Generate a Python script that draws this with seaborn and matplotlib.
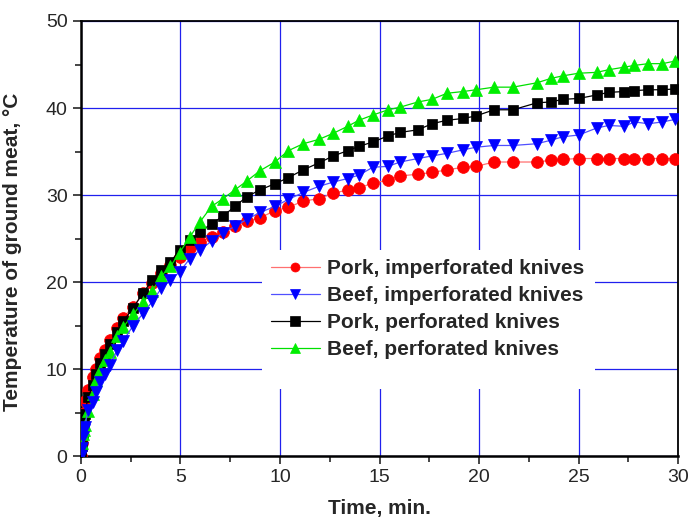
import numpy as np
import pandas as pd
import seaborn as sns
import matplotlib
import matplotlib.pyplot as plt
from matplotlib.patches import Rectangle
from matplotlib.ticker import MultipleLocator

matplotlib.use('Agg')

time_min = [0, 0.07, 0.12, 0.17, 0.2, 0.37, 0.62, 0.75, 0.95, 1.2,
            1.46, 1.84, 2.12, 2.63, 3.13, 3.6, 4.05, 4.5, 4.97, 5.48,
            5.98, 6.57, 7.15, 7.74, 8.33, 9.0, 9.75, 10.42, 11.17, 11.96,
            12.68, 13.4, 13.97, 14.67, 15.43, 16.03, 16.93, 17.64, 18.39, 19.2,
            19.85, 20.75, 21.7, 22.9, 23.6, 24.2, 25.0, 25.9, 26.5, 27.3,
            27.8, 28.5, 29.2, 29.85]

pork_imperf = [0, 1.5, 3.0, 5.0, 6.4, 7.6, 9.1, 10.0, 11.3, 12.2,
               13.4, 14.7, 15.9, 17.2, 18.7, 19.9, 21.0, 22.0, 22.9, 23.9,
               24.6, 25.2, 25.8, 26.4, 27.0, 27.4, 28.2, 28.6, 29.3, 29.6,
               30.2, 30.6, 30.8, 31.4, 31.7, 32.2, 32.4, 32.6, 32.9, 33.2,
               33.3, 33.8, 33.8, 33.8, 34.0, 34.1, 34.2, 34.2, 34.2, 34.2,
               34.2, 34.2, 34.2, 34.2]

beef_imperf = [0, 0.9, 2.2, 3.0, 3.4, 5.3, 6.2, 7.4, 8.5, 9.5,
               10.5, 12.2, 13.2, 15.0, 16.4, 17.8, 19.3, 20.2, 21.2, 22.7,
               23.7, 24.7, 25.7, 26.4, 27.2, 28.0, 28.7, 29.5, 30.3, 31.0,
               31.5, 31.9, 32.3, 33.2, 33.3, 33.8, 34.2, 34.5, 34.8, 35.2,
               35.5, 35.7, 35.7, 35.9, 36.3, 36.7, 36.9, 37.7, 38.0, 37.9,
               38.4, 38.2, 38.4, 38.7]

pork_perf = [0, 1.2, 2.5, 3.8, 4.8, 6.8, 8.2, 9.4, 10.7, 11.8,
             12.9, 14.3, 15.5, 17.0, 18.8, 20.2, 21.4, 22.3, 23.7, 24.8,
             25.8, 26.7, 27.6, 28.7, 29.8, 30.6, 31.3, 32.0, 32.9, 33.7,
             34.5, 35.1, 35.6, 36.1, 36.8, 37.2, 37.5, 38.2, 38.6, 38.8,
             39.1, 39.8, 39.8, 40.6, 40.7, 41.0, 41.1, 41.5, 41.8, 41.9,
             42.0, 42.1, 42.1, 42.2]

beef_perf = [0, 1.5, 2.5, 3.0, 3.6, 5.2, 7.2, 8.7, 9.9, 11.0,
             12.0, 13.8, 14.8, 16.3, 17.7, 19.0, 20.7, 21.8, 23.4, 25.2,
             26.9, 28.7, 29.6, 30.6, 31.6, 32.8, 33.8, 35.1, 35.9, 36.4,
             37.1, 37.9, 38.6, 39.2, 39.8, 40.1, 40.7, 41.0, 41.7, 41.9,
             42.1, 42.4, 42.4, 42.9, 43.4, 43.7, 44.0, 44.1, 44.4, 44.7,
             44.9, 45.1, 45.1, 45.4]

labels = ["Pork, imperforated knives", "Beef, imperforated knives",
          "Pork, perforated knives", "Beef, perforated knives"]

sns.set_style("white")
plt.rcParams['font.family'] = ['Liberation Sans', 'DejaVu Sans']

fig = plt.figure(figsize=(6.9, 5.25), dpi=100)
ax = fig.add_axes([0.117, 0.131, 0.866, 0.829])

# (values, label, line colour, marker colour, marker, size)
series = [
    (pork_imperf, labels[0], '#ff7070', '#ff0000', 'o', 8.5),
    (pork_perf, labels[2], '#000000', '#000000', 's', 7.5),
    (beef_perf, labels[3], '#00e000', '#00ee00', '^', 9),
    (beef_imperf, labels[1], '#5050ff', '#0000ff', 'v', 9),
]

for vals, name, lc, mc, mk, ms in series:
    sns.lineplot(x=time_min, y=vals, ax=ax, color=lc, marker=mk,
                 markersize=ms, markerfacecolor=mc, markeredgecolor=mc,
                 markeredgewidth=0.5, linewidth=0.9, label=name, zorder=3)

ax.set_xlim(0, 30)
ax.set_ylim(0, 50)
ax.xaxis.set_major_locator(MultipleLocator(5))
ax.xaxis.set_minor_locator(MultipleLocator(2.5))
ax.yaxis.set_major_locator(MultipleLocator(10))
ax.yaxis.set_minor_locator(MultipleLocator(5))
ax.grid(True, which='major', color='#2020ee', linewidth=0.9, zorder=0)
ax.set_axisbelow(True)

ax.tick_params(which='both', direction='out', bottom=True, left=True,
               top=False, right=False, width=1.2, labelsize=14)
ax.tick_params(which='major', length=6)
ax.tick_params(which='minor', length=4)
for sp in ax.spines.values():
    sp.set_color('black')
    sp.set_linewidth(1.3)
ax.spines['left'].set_linewidth(1.8)
ax.spines['bottom'].set_linewidth(1.8)

ax.set_xlabel("Time, min.", fontsize=15, fontweight='bold', labelpad=9)
ax.set_ylabel("Temperature of ground meat, \u00b0C", fontsize=15,
              fontweight='bold')
ax.yaxis.set_label_coords(-0.098, 0.47)

# white box behind the legend hides the grid there
ax.add_patch(Rectangle((0.303, 0.154), 0.558, 0.32, transform=ax.transAxes,
                       facecolor='white', edgecolor='none', zorder=2))

handles, lbls = ax.get_legend_handles_labels()
order = [lbls.index(l) for l in labels]
leg = ax.legend([handles[i] for i in order], [lbls[i] for i in order],
                loc='upper left', bbox_to_anchor=(0.318, 0.453),
                frameon=False, borderpad=0, borderaxespad=0,
                handlelength=2.35, handletextpad=0.33, labelspacing=0.38,
                prop={'weight': 'bold', 'size': 15})
for h in leg.legend_handles:
    h.set_markersize(6.5)
leg.set_zorder(5)

fig.savefig("out.png", dpi=100)
